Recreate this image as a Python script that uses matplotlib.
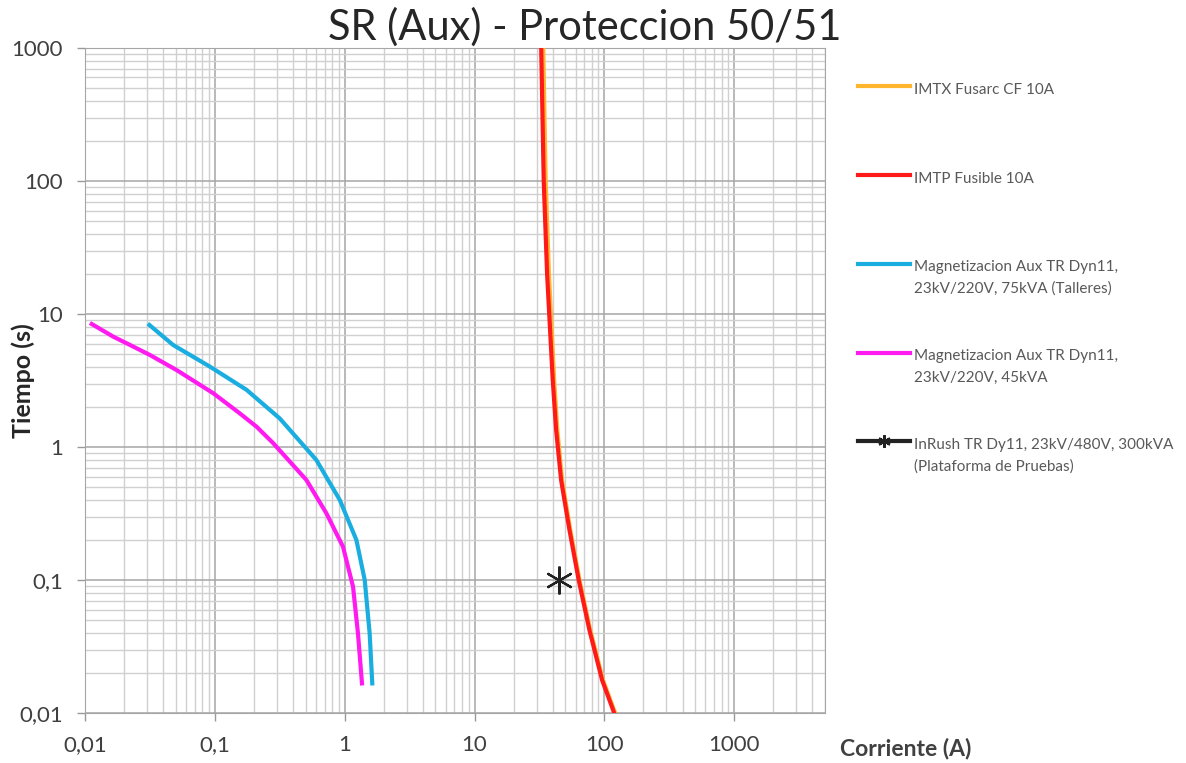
"""Curvas de coordinacion SR (Aux) - Proteccion 50/51."""

import matplotlib
matplotlib.use('Agg')
import matplotlib.pyplot as plt
from matplotlib.ticker import FixedLocator, LogLocator, NullFormatter

# corriente (A) / tiempo (s) de cada curva
imtx_i = [33.8, 35.3, 37.4, 41.0, 43.4, 47.2, 54.6, 64.3, 77.8, 97.5, 121]
imtx_t = [1000, 100, 20, 3.2, 1.34, 0.565, 0.238, 0.1, 0.042, 0.0177, 0.01]

imtp_i = [32.6, 34.1, 36.2, 40.0, 42.5, 46.4, 53.8, 63.4, 76.7, 96, 119]
imtp_t = [1000, 100, 20, 3.2, 1.34, 0.565, 0.238, 0.1, 0.042, 0.0177, 0.01]

mag75_i = [0.0313, 0.0477, 0.0916, 0.1754, 0.316, 0.605, 0.916, 1.23, 1.426, 1.556, 1.63]
mag75_t = [8.27, 5.85, 4.02, 2.69, 1.64, 0.798, 0.400, 0.2, 0.1, 0.0397, 0.0167]

mag45_i = [0.01126, 0.01652, 0.0222, 0.0316, 0.0507, 0.097, 0.1556, 0.2096, 0.281,
           0.507, 0.723, 0.970, 1.159, 1.265, 1.358]
mag45_t = [8.41, 6.75, 5.85, 4.92, 3.79, 2.54, 1.79, 1.42, 1.07,
           0.565, 0.317, 0.178, 0.0891, 0.0397, 0.0167]

inrush_i = [44.5]
inrush_t = [0.1]

labels = ['IMTX Fusarc CF 10A',
          'IMTP Fusible 10A',
          'Magnetizacion Aux TR Dyn11,\n23kV/220V, 75kVA (Talleres)',
          'Magnetizacion Aux TR Dyn11,\n23kV/220V, 45kVA',
          'InRush TR Dy11, 23kV/480V, 300kVA\n(Plataforma de Pruebas)']

x_ticks = [0.01, 0.1, 1, 10, 100, 1000]
x_ticklabels = ['0,01', '0,1', '1', '10', '100', '1000']
y_ticks = [0.01, 0.1, 1, 10, 100, 1000]
y_ticklabels = ['0,01', '0,1', '1', '10', '100', '1000']

plt.rcParams['font.family'] = ['Lato', 'DejaVu Sans']
text_gray = '#404040'

fig = plt.figure(figsize=(11.86, 7.63), dpi=100)
ax = fig.add_axes([0.0717, 0.0655, 0.6239, 0.8716])
ax.set_xscale('log')
ax.set_yscale('log')
ax.set_xlim(0.01, 5000)
ax.set_ylim(0.01, 1000)

ax.plot(imtx_i, imtx_t, color='#FFB52E', lw=3, label=labels[0], zorder=3)
ax.plot(imtp_i, imtp_t, color='#FF1A1A', lw=3, label=labels[1], zorder=4)
ax.plot(mag75_i, mag75_t, color='#1AAEE0', lw=3, label=labels[2], zorder=3)
ax.plot(mag45_i, mag45_t, color='#FF1AF0', lw=3, label=labels[3], zorder=3)
ax.plot(inrush_i, inrush_t, color='#222222', lw=3, marker=(6, 2, 0),
        ms=20, mew=1.6, label=labels[4], zorder=5)

# ejes y rejilla
ax.xaxis.set_major_locator(FixedLocator(x_ticks))
ax.set_xticklabels(x_ticklabels)
ax.yaxis.set_major_locator(FixedLocator(y_ticks))
ax.set_yticklabels(y_ticklabels)
ax.xaxis.set_minor_locator(LogLocator(base=10, subs=range(2, 10), numticks=20))
ax.yaxis.set_minor_locator(LogLocator(base=10, subs=range(2, 10), numticks=20))
ax.xaxis.set_minor_formatter(NullFormatter())
ax.yaxis.set_minor_formatter(NullFormatter())
ax.tick_params(which='major', direction='out', length=6, width=1,
               color='#999999', labelsize=16, labelcolor=text_gray)
ax.tick_params(axis='x', which='major', pad=10)
ax.tick_params(axis='y', which='major', pad=10)
ax.tick_params(which='minor', length=0)
ax.grid(which='major', color='#a6a6a6', lw=1.1)
ax.grid(which='minor', color='#d0d0d0', lw=1.0)
ax.set_axisbelow(True)
for spine in ax.spines.values():
    spine.set_color('#a6a6a6')

ax.set_xlabel('Corriente (A)', fontsize=16.5, fontweight='bold', color=text_gray,
              ha='left', va='center')
ax.xaxis.set_label_coords(1.02, -0.053)
ax.set_ylabel('Tiempo (s)', fontsize=18, fontweight='bold', color='#262626',
              va='center')
ax.yaxis.set_label_coords(-0.083, 0.5)

fig.suptitle('SR (Aux) - Proteccion 50/51', x=0.493, y=0.965, va='center',
             fontsize=30, color='#262626')

# leyenda a la derecha, todas las entradas con dos lineas
leg_labels = [l if '\n' in l else l + '\n ' for l in labels]
handles = ax.get_lines()
leg = ax.legend(handles, leg_labels, loc='upper left',
                bbox_to_anchor=(858 / 1186, 1 - 83 / 763),
                bbox_transform=fig.transFigure, frameon=False,
                fontsize=11, labelcolor='#595959', handlelength=3.4,
                handletextpad=0.25, labelspacing=3.5, borderpad=0,
                borderaxespad=0, markerscale=0.45)
for t in leg.get_texts():
    t.set_linespacing(1.65)
# la muestra de cada entrada va a la altura de la primera linea
for line in leg.get_lines():
    y = line.get_ydata()
    line.set_ydata([v + 10.5 for v in y])

fig.savefig('out.png', dpi=100)
